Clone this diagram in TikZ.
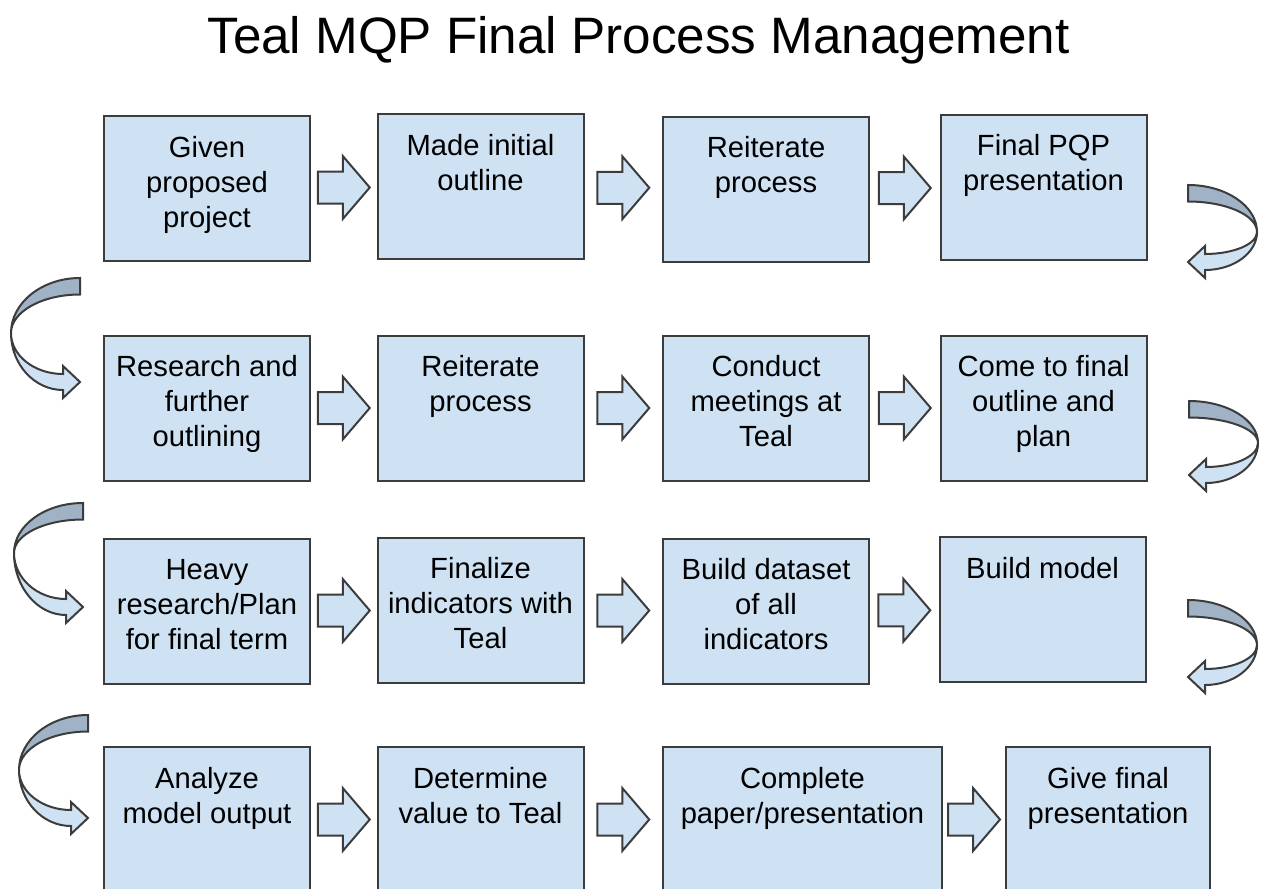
\documentclass[tikz,border=0pt]{standalone}
\usepackage{fontspec}
\setmainfont{Liberation Sans}
\usetikzlibrary{calc}
\definecolor{caixa}{HTML}{CFE2F3}
\definecolor{borda}{HTML}{3C3C3C}
\definecolor{escura}{HTML}{A0B3C6}
\tikzset{
	etapa/.style={draw=borda, fill=caixa, line width=1pt, minimum width=103pt, minimum height=72.5pt, inner sep=0pt},
	texto/.style={anchor=north, align=center, inner sep=0pt, yshift=-8.75pt, font=\fontsize{14.6}{17.5}\selectfont},
	seta/.style={draw=borda, line width=1pt, line join=miter},
	pics/avanco/.style={code={
		\filldraw[seta, fill=caixa] (-26,-16) -- (-1,-16) -- (-1,-31.5) -- (26,0) -- (-1,31.5) -- (-1,16) -- (-26,16) -- cycle;
	}},
	pics/volta/.style n args={2}{code={
		\filldraw[seta, fill=escura] (0,0) .. controls (38,0) and (69,{0.45*#1}) .. (69,#1) .. controls (69,{#1-0.55*(#1-16.5)}) and (38,16.5) .. (0,16.5) -- cycle;
		\filldraw[seta, fill=caixa] (69,#1) .. controls (69,{#1+0.55*(#2+8-#1)}) and (45.6,#2+8) .. (17,#2+8) -- (17,#2+16) -- (0,#2) -- (17,#2-16) -- (17,#2-8) .. controls (45.6,#2-8) and (69,{#1+0.55*(#2-8-#1)}) .. (69,#1) -- cycle;
	}},
}
\begin{document}
\begin{tikzpicture}[x=0.5pt, y=-0.5pt] %Unidade em pixels
	\useasboundingbox (0,0) rectangle (1261,888);
	\clip (0,0) rectangle (1261,888);
	\node[anchor=base, inner sep=0pt, font=\fontsize{25.6}{30}\selectfont] (titulo) at (638.5,53.5) {Teal MQP Final Process Management}; %Titulo
		%Linha 1
	\node[etapa] (b11) at (207,188.5) {};
	\node[etapa] (b12) at (480.5,186.5) {};
	\node[etapa] (b13) at (766,189) {};
	\node[etapa] (b14) at (1043.5,187) {};
	\node[texto] (t11) at (b11.north) {\strut Given\\proposed\\project};
	\node[texto] (t12) at (b12.north) {\strut Made initial\\outline};
	\node[texto] (t13) at (b13.north) {\strut Reiterate\\process};
	\node[texto] (t14) at (b14.north) {\strut Final PQP\\presentation};
		%Linha 2
	\node[etapa] (b21) at (207,408) {};
	\node[etapa] (b22) at (480.5,408) {};
	\node[etapa] (b23) at (766,408) {};
	\node[etapa] (b24) at (1043.5,408) {};
	\node[texto] (t21) at (b21.north) {\strut Research and\\further\\outlining};
	\node[texto] (t22) at (b22.north) {\strut Reiterate\\process};
	\node[texto] (t23) at (b23.north) {\strut Conduct\\meetings at\\Teal};
	\node[texto] (t24) at (b24.north) {\strut Come to final\\outline and\\plan};
		%Linha 3
	\node[etapa] (b31) at (207,611) {};
	\node[etapa] (b32) at (480.5,610) {};
	\node[etapa] (b33) at (766,611) {};
	\node[etapa] (b34) at (1042.5,609.5) {};
	\node[texto] (t31) at (b31.north) {\strut Heavy\\research/Plan\\for final term};
	\node[texto] (t32) at (b32.north) {\strut Finalize\\indicators with\\Teal};
	\node[texto] (t33) at (b33.north) {\strut Build dataset\\of all\\indicators};
	\node[texto] (t34) at (b34.north) {\strut Build model};
		%Linha 4
	\node[etapa] (b41) at (207,819.5) {};
	\node[etapa] (b42) at (480.5,819.5) {};
	\node[etapa, minimum width=139.5pt] (b43) at (802.5,819.5) {};
	\node[etapa, minimum width=102pt] (b44) at (1108,819.5) {};
	\node[texto] (t41) at (b41.north) {\strut Analyze\\model output};
	\node[texto] (t42) at (b42.north) {\strut Determine\\value to Teal};
	\node[texto] (t43) at (b43.north) {\strut Complete\\paper/presentation};
	\node[texto] (t44) at (b44.north) {\strut Give final\\presentation};
		%Setas
	\foreach \l in {1,2,3,4}{
		\pic at ($(b\l1.east)!0.5!(b\l2.west)$) {avanco};
		\pic at ($(b\l2.east)!0.5!(b\l3.west)$) {avanco};
		\pic at ($(b\l3.east)!0.5!(b\l4.west)$) {avanco};
	}
		%Curvas
	\pic at (1188,185) {volta={47}{77}};
	\pic at (1189,401) {volta={42}{74}};
	\pic at (1188,600) {volta={45}{77}};
	\pic[xscale=-1] at (80,278) {volta={55}{104}};
	\pic[xscale=-1] at (83,503) {volta={50}{104}};
	\pic[xscale=-1] at (88,715) {volta={55}{103}};
\end{tikzpicture}
\end{document}
